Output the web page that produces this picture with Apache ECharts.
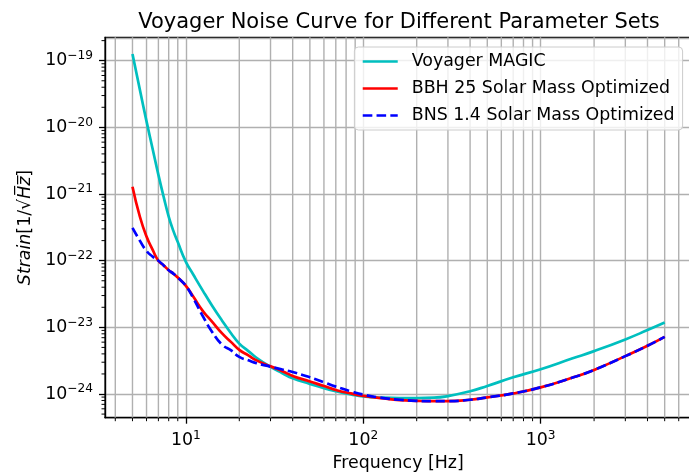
<!DOCTYPE html>
<html>
<head>
<meta charset="utf-8">
<script src="https://cdn.jsdelivr.net/npm/echarts@6/dist/echarts.min.js"></script>
<style>
html,body{margin:0;padding:0;background:#fff;}
#chart{width:689px;height:474px;}
</style>
</head>
<body>
<div id="chart"></div>
<script>
// ---- data ----
var freqs = [5, 5.5, 6, 6.5, 7, 7.5, 8, 8.5, 9, 10, 11, 12.5, 14, 16, 18, 20, 22.5, 25, 30, 35, 40, 50, 60, 70, 85, 100, 130, 160, 200, 250, 300, 400, 500, 700, 1000, 1500, 2000, 3000, 4000, 5000];
var voyagerMagic = [1.26e-19, 3.7e-20, 1.23e-20, 4.7e-21, 1.94e-21, 9.0e-22, 4.6e-22, 2.8e-22, 1.9e-22, 9.6e-23, 6.2e-23, 3.5e-23, 2.15e-23, 1.26e-23, 8.1e-24, 5.7e-24, 4.4e-24, 3.5e-24, 2.55e-24, 2.05e-24, 1.72e-24, 1.42e-24, 1.22e-24, 1.1e-24, 9.9e-25, 9.2e-25, 8.8e-25, 8.7e-25, 8.7e-25, 8.8e-25, 9.3e-25, 1.1e-24, 1.32e-24, 1.78e-24, 2.35e-24, 3.4e-24, 4.4e-24, 6.6e-24, 9.1e-24, 1.18e-23];
var bbh25 = [1.29e-21, 4.6e-22, 2.3e-22, 1.45e-22, 1.0e-22, 8.5e-23, 7.2e-23, 6.4e-23, 5.6e-23, 4.2e-23, 2.9e-23, 1.74e-23, 1.23e-23, 8.1e-24, 6.0e-24, 4.6e-24, 3.8e-24, 3.2e-24, 2.6e-24, 2.2e-24, 1.87e-24, 1.54e-24, 1.32e-24, 1.15e-24, 1.02e-24, 9.4e-25, 8.6e-25, 8.1e-25, 7.9e-25, 7.8e-25, 7.8e-25, 8.2e-25, 8.9e-25, 1.02e-24, 1.26e-24, 1.75e-24, 2.3e-24, 3.7e-24, 5.3e-24, 7.2e-24];
var bns14 = [3.1e-22, 2.0e-22, 1.4e-22, 1.15e-22, 1.0e-22, 8.5e-23, 7.2e-23, 6.4e-23, 5.6e-23, 4.2e-23, 2.75e-23, 1.45e-23, 8.7e-24, 5.5e-24, 4.5e-24, 3.6e-24, 3.2e-24, 2.9e-24, 2.57e-24, 2.33e-24, 2.14e-24, 1.78e-24, 1.5e-24, 1.29e-24, 1.1e-24, 9.8e-25, 8.7e-25, 8.2e-25, 7.9e-25, 7.8e-25, 7.8e-25, 8.2e-25, 8.9e-25, 1.02e-24, 1.26e-24, 1.75e-24, 2.3e-24, 3.7e-24, 5.3e-24, 7.2e-24];
var seriesNames = ['Voyager MAGIC', 'BBH 25 Solar Mass Optimized', 'BNS 1.4 Solar Mass Optimized'];
// minor tick positions (log axes)
var xMinorTicks = [4, 5, 6, 7, 8, 9, 20, 30, 40, 50, 60, 70, 80, 90, 200, 300, 400, 500, 600, 700, 800, 900, 2000, 3000, 4000, 5000, 6000, 7000];
var yMinorTicks = [5e-25, 6e-25, 7e-25, 8e-25, 9e-25,
  2e-24, 3e-24, 4e-24, 5e-24, 6e-24, 7e-24, 8e-24, 9e-24,
  2e-23, 3e-23, 4e-23, 5e-23, 6e-23, 7e-23, 8e-23, 9e-23,
  2e-22, 3e-22, 4e-22, 5e-22, 6e-22, 7e-22, 8e-22, 9e-22,
  2e-21, 3e-21, 4e-21, 5e-21, 6e-21, 7e-21, 8e-21, 9e-21,
  2e-20, 3e-20, 4e-20, 5e-20, 6e-20, 7e-20, 8e-20, 9e-20,
  2e-19];
var xMin = 3.5, xMax = 7063;
var yMin = 4.413e-25, yMax = 2.244e-19;

// ---- chart ----
var FONT = 'DejaVu Sans';
function pairs(xs, ys) { return xs.map(function (x, i) { return [x, ys[i]]; }); }
function sciLabel(v) {
  var e = Math.round(Math.log10(v));
  return '{b|10}{s|' + (e < 0 ? '\u2212' : '') + Math.abs(e) + '}';
}
var labelRich = {
  b: { fontSize: 17.4, fontFamily: FONT, color: '#000', lineHeight: 22 },
  s: { fontSize: 12.2, fontFamily: FONT, color: '#000', verticalAlign: 'top', lineHeight: 14 }
};

var chart = echarts.init(document.getElementById('chart'), null, { renderer: 'canvas' });
var option = {
  animation: false,
  backgroundColor: '#ffffff',
  title: {
    text: 'Voyager Noise Curve for Different Parameter Sets',
    left: 394, top: 7, textAlign: 'center',
    textStyle: { fontFamily: FONT, fontSize: 21, fontWeight: 'normal', color: '#000' }
  },
  grid: { left: 105, top: 37.3, width: 586.3, height: 380.4, show: true, borderColor: '#000', borderWidth: 1.3, backgroundColor: 'transparent', containLabel: false, outerBoundsMode: 'none' },
  legend: {
    data: seriesNames,
    orient: 'vertical', right: 6.4, top: 47,
    itemWidth: 35, itemHeight: 17, itemGap: 10,
    padding: [6, 8, 6, 7],
    backgroundColor: 'rgba(255,255,255,0.8)', borderColor: '#cccccc', borderWidth: 1, borderRadius: 4,
    itemStyle: { opacity: 0, color: 'rgba(0,0,0,0)', borderWidth: 0 },
    lineStyle: { width: 2.7 },
    textStyle: { fontFamily: FONT, fontSize: 17.4, color: '#000', padding: [0, 0, 0, 9] }
  },
  xAxis: {
    type: 'log', logBase: 10, min: xMin, max: xMax,
    name: 'Frequency [Hz]', nameLocation: 'middle', nameGap: 37,
    nameTextStyle: { fontFamily: FONT, fontSize: 17.4, color: '#000' },
    axisLine: { show: true, lineStyle: { color: '#000', width: 1.3 } },
    axisTick: { show: true, length: 6, lineStyle: { color: '#000', width: 1.3 } },
    axisLabel: { showMinLabel: false, showMaxLabel: false, margin: 12, formatter: sciLabel, rich: labelRich },
    splitLine: { show: true, lineStyle: { color: '#b0b0b0', width: 1.4 } },
    minorTick: { show: false }, minorSplitLine: { show: false }
  },
  yAxis: {
    type: 'log', logBase: 10, min: yMin, max: yMax,
    name: '{i|Strain}[1/\u221A{i|H\u0305z\u0305}]', nameLocation: 'middle', nameGap: 60, nameRotate: 90,
    nameTextStyle: { fontFamily: FONT, fontSize: 17.4, color: '#000', rich: { i: { fontFamily: FONT, fontSize: 17.4, fontStyle: 'italic', color: '#000' } } },
    axisLine: { show: true, lineStyle: { color: '#000', width: 1.3 } },
    axisTick: { show: true, length: 6, lineStyle: { color: '#000', width: 1.3 } },
    axisLabel: { showMinLabel: false, showMaxLabel: false, margin: 12, formatter: sciLabel, rich: labelRich },
    splitLine: { show: true, lineStyle: { color: '#b0b0b0', width: 1.4 } },
    minorTick: { show: false }, minorSplitLine: { show: false }
  },
  series: [
    {
      name: 'xminor', type: 'custom', silent: true, clip: false, z: 1,
      data: xMinorTicks.map(function (v) { return [v, 1e-22]; }),
      renderItem: function (params, api) {
        var p = api.coord([api.value(0), 1e-22]);
        var cs = params.coordSys;
        var yb = cs.y + cs.height;
        return { type: 'group', children: [
          { type: 'line', shape: { x1: p[0], y1: cs.y, x2: p[0], y2: yb }, style: { stroke: '#b0b0b0', lineWidth: 1.4 } },
          { type: 'line', shape: { x1: p[0], y1: yb, x2: p[0], y2: yb + 3.5 }, style: { stroke: '#000', lineWidth: 1 } }
        ] };
      }
    },
    {
      name: 'yminor', type: 'custom', silent: true, clip: false, z: 1,
      data: yMinorTicks.map(function (v) { return [10, v]; }),
      renderItem: function (params, api) {
        var p = api.coord([10, api.value(1)]);
        var cs = params.coordSys;
        return { type: 'line', shape: { x1: cs.x - 3.5, y1: p[1], x2: cs.x, y2: p[1] }, style: { stroke: '#000', lineWidth: 1 } };
      }
    },
    {
      name: seriesNames[0], type: 'line', data: pairs(freqs, voyagerMagic), showSymbol: false, symbol: 'circle', symbolSize: 0, smooth: 0.5, z: 3,
      lineStyle: { color: '#00BFBF', width: 2.7 }, itemStyle: { color: '#00BFBF' }
    },
    {
      name: seriesNames[1], type: 'line', data: pairs(freqs, bbh25), showSymbol: false, symbol: 'circle', symbolSize: 0, smooth: 0.5, z: 4,
      lineStyle: { color: '#FF0000', width: 2.7 }, itemStyle: { color: '#FF0000' }
    },
    {
      name: seriesNames[2], type: 'line', data: pairs(freqs, bns14), showSymbol: false, symbol: 'circle', symbolSize: 0, smooth: 0.5, z: 5,
      lineStyle: { color: '#0000FF', width: 2.7, type: [9.6, 4.2] }, itemStyle: { color: '#0000FF' }
    }
  ]
};
chart.setOption(option);
</script>
</body>
</html>
